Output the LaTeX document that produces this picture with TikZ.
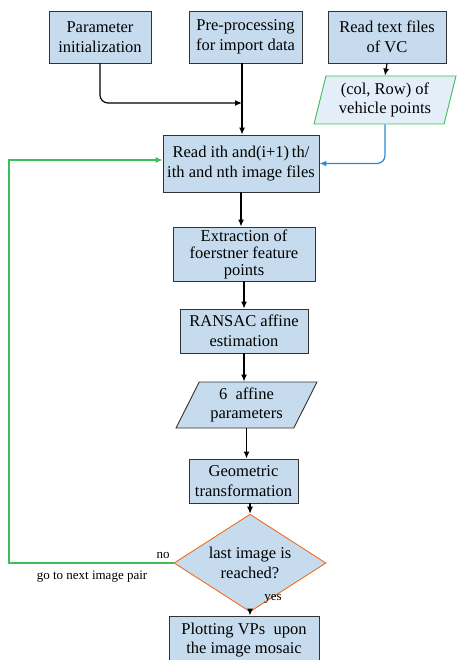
\documentclass[tikz,border=0pt]{standalone}
\usepackage{fontspec}
\setmainfont{Liberation Serif}
\newfontfamily\boxfont{Liberation Serif}
\usetikzlibrary{shapes.geometric, arrows.meta}

\definecolor{boxblue}{HTML}{C6DCEE}
\definecolor{paleblue}{HTML}{E3EEF8}
\definecolor{loopgreen}{HTML}{3DBE5A}
\definecolor{linkblue}{HTML}{2A8AD2}
\definecolor{edgeorange}{HTML}{F26B22}
\definecolor{framegray}{HTML}{333333}

\tikzset{
  process/.style={rectangle, draw=framegray, fill=boxblue, line width=0.9pt, align=center,
    inner sep=0pt, font=\boxfont\fontsize{16.5}{19.5}\selectfont},
  iodata/.style={trapezium, trapezium left angle=#1, trapezium right angle=180-#1,
    trapezium stretches=true, draw=framegray, fill=boxblue, line width=0.9pt, align=center,
    inner sep=0pt, font=\boxfont\fontsize{16.5}{19.5}\selectfont},
  decision/.style={diamond, draw=edgeorange, fill=boxblue, line width=0.9pt, align=center,
    inner sep=-4pt, font=\boxfont\fontsize{16.5}{19.5}\selectfont},
  note/.style={font=\boxfont\fontsize{13}{15}\selectfont},
}

\begin{document}
\begin{tikzpicture}[x=1pt, y=-1pt, >={Latex[length=7pt,width=6pt]}, line width=1.2pt]
  \useasboundingbox (0,0) rectangle (456,660);
  \node (param) [process, minimum width=102, minimum height=52] at (100,37) {Parameter\\initialization};
  \node (pre) [process, minimum width=113, minimum height=52] at (245.5,37) {Pre-processing\\for import data};
  \node (vc) [process, minimum width=118, minimum height=52] at (387,37) {Read text files\\of VC};
  \node (colrow) [iodata=75, draw=loopgreen, fill=paleblue, minimum width=142, minimum height=48] at (385,100) {(col, Row) of\\vehicle points};
  \node (read) [process, minimum width=156, minimum height=57] at (241,163.5) {Read ith and(i+1)\,th/\\ith and nth image files};
  \node (extr) [process, minimum width=142, minimum height=54, font=\boxfont\fontsize{16.5}{17}\selectfont] at (244,254) {Extraction of\\foerstner feature\\points};
  \node (ransac) [process, minimum width=128, minimum height=44] at (244,331) {RANSAC affine\\estimation};
  \node (affine) [iodata=63, minimum width=141, minimum height=46] at (246.5,405) {6~ affine\\parameters};
  \node (geo) [process, minimum width=109, minimum height=44] at (243.5,481) {Geometric\\transformation};
  \node (last) [decision, minimum width=152, minimum height=66] at (250,563) {last image is\\reached?};
  \node (plot) [process, minimum width=150, minimum height=48] at (244,640) {Plotting VPs~ upon\\the image mosaic};
  \coordinate (join) at (242,103);
  \coordinate (back) at (9,563);

  \draw[->, rounded corners=8] (param.south) |- (join);
  \draw[->] (pre.south -| join) -- (read.north -| join);
  \draw[->] (vc.south) -- (colrow.north);
  \draw[->, linkblue, rounded corners=8] (colrow.south) |- (read.east);
  \draw[->] (read.south) -- (read.south |- extr.north);
  \draw[->] (extr.south) -- (ransac.north);
  \draw[->] (ransac.south) -- (ransac.south |- affine.north);
  \draw[->] (affine.south) -- (affine.south |- geo.north);
  \draw[->] (geo.south -| last.north) -- (last.north);
  \draw[->] (last.south) -- (last.south |- plot.north);
  \draw[->, loopgreen] (last.west) -- (back) |- ([yshift=3.5pt]read.west);

  \node (no) [note, above left] at (last.west) {no};
  \node (nextpair) [note] at (92,577) {go to next image pair};
  \node (yes) [note] at (273,599) {yes};
\end{tikzpicture}
\end{document}
